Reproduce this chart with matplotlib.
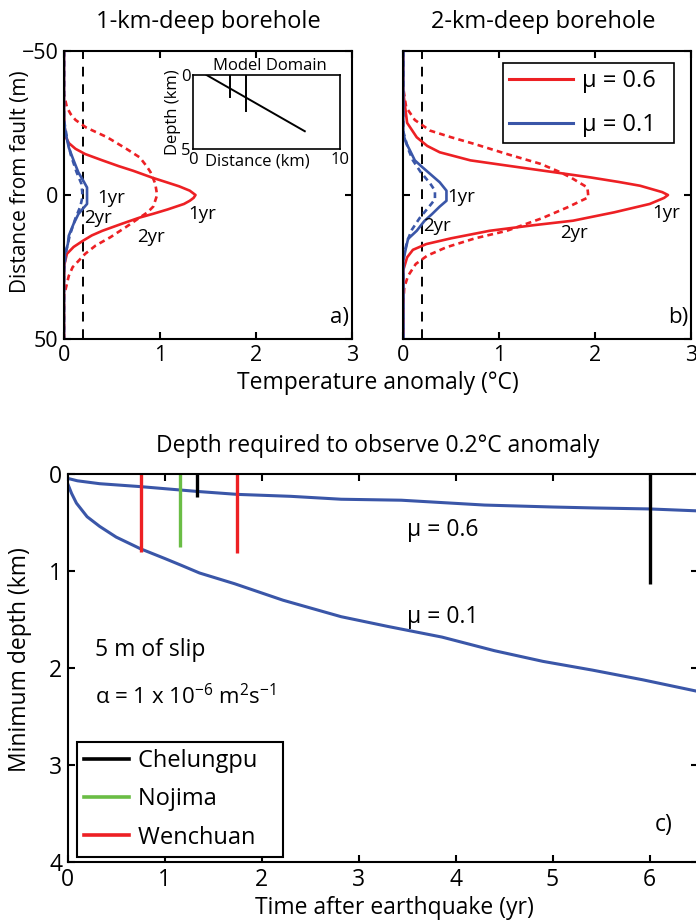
import matplotlib
matplotlib.use("Agg")
import matplotlib.pyplot as plt
from matplotlib.lines import Line2D

plt.rcParams['font.family'] = ['Open Sans', 'DejaVu Sans']
plt.rcParams['mathtext.fontset'] = 'custom'
plt.rcParams['mathtext.rm'] = 'Open Sans'
plt.rcParams['mathtext.it'] = 'Open Sans'
plt.rcParams['mathtext.default'] = 'regular'
plt.rcParams['axes.linewidth'] = 1.5

RED = '#ed2024'
BLUE = '#3a56a8'
GREEN = '#6abd45'

# ---------------- Data: panel a (1-km-deep borehole) ----------------
a_red1_d = [-50, -30, -24, -20, -18, -16, -14.2, -12, -10, -8.4, -6, -4.4, -3, -1.5, 0, 1, 2, 3.1, 5, 6.5, 7.8, 10, 12.4, 14, 15.8, 18, 20.4, 24, 30, 50]
a_red1_T = [0, 0, 0.005, 0.02, 0.05, 0.12, 0.22, 0.4, 0.57, 0.72, 0.92, 1.07, 1.2, 1.31, 1.37, 1.35, 1.31, 1.25, 1.08, 0.93, 0.79, 0.6, 0.4, 0.29, 0.2, 0.1, 0.03, 0.005, 0, 0]
a_red2_d = [-50, -35, -30.4, -28, -26, -23.4, -20, -16, -13, -10, -8, -4, 0, 4, 6, 7.8, 11, 14.7, 17.5, 20.4, 25, 28, 30.8, 35, 50]
a_red2_T = [0, 0, 0.03, 0.07, 0.12, 0.23, 0.45, 0.65, 0.79, 0.86, 0.9, 0.95, 0.97, 0.93, 0.87, 0.79, 0.65, 0.48, 0.33, 0.22, 0.09, 0.05, 0.03, 0, 0]
a_blue1_d = [-50, -25, -21, -18, -16.4, -12, -7.8, -5, -2.6, 0, 3.1, 5, 6.6, 10, 14.1, 17, 20.4, 25, 50]
a_blue1_T = [0, 0, 0.02, 0.04, 0.05, 0.1, 0.15, 0.2, 0.24, 0.24, 0.24, 0.19, 0.15, 0.1, 0.05, 0.04, 0.01, 0, 0]
a_blue2_d = [-50, -26, -20, -14, -8, -4, -1, 1, 4, 8, 14, 20, 26, 50]
a_blue2_T = [0, 0, 0.03, 0.07, 0.13, 0.18, 0.19, 0.19, 0.17, 0.12, 0.06, 0.02, 0, 0]

# ---------------- Data: panel b (2-km-deep borehole) ----------------
b_red1_d = [-50, -35.5, -25, -20, -17, -14.8, -12, -10.2, -8, -6.1, -4.5, -3.2, -1, 0, 1, 3.1, 6, 8.9, 10.5, 12.4, 15, 17, 19, 21.6, 26, 50]
b_red1_T = [0, 0, 0.04, 0.14, 0.25, 0.38, 0.7, 1.08, 1.55, 1.95, 2.25, 2.47, 2.7, 2.76, 2.72, 2.57, 2.2, 1.77, 1.35, 0.9, 0.5, 0.24, 0.1, 0.04, 0, 0]
b_red2_d = [-50, -37, -30.4, -26, -22.3, -20, -17.7, -14, -10.8, -8, -6, -2.6, 0.8, 4.3, 8, 12.4, 15, 18.1, 21, 23.9, 28, 32, 38, 50]
b_red2_T = [0, 0, 0.03, 0.12, 0.28, 0.5, 0.74, 1.1, 1.43, 1.63, 1.75, 1.92, 1.93, 1.71, 1.45, 1.08, 0.75, 0.45, 0.25, 0.13, 0.05, 0.01, 0, 0]
b_blue1_d = [-50, -21, -18, -15.4, -12, -9.6, -7, -4.4, -1.5, 2, 4, 6.6, 9, 12.4, 15.2, 18, 22.8, 50]
b_blue1_T = [0, 0, 0.03, 0.07, 0.12, 0.2, 0.29, 0.38, 0.45, 0.45, 0.38, 0.3, 0.22, 0.14, 0.05, 0.03, 0, 0]
b_blue2_d = [-50, -22, -16, -12, -8, -4, -1.5, 1.5, 4, 8, 12, 16, 22, 50]
b_blue2_T = [0, 0, 0.05, 0.1, 0.18, 0.28, 0.33, 0.33, 0.27, 0.17, 0.09, 0.04, 0, 0]

threshold_T = 0.2

# ---------------- Inset: model domain ----------------
fault_x = [0.9, 7.6]
fault_z = [0.0, 3.8]
borehole_x = [2.5, 3.6]
borehole_z = [1.47, 2.43]

# ---------------- Data: panel c ----------------
t_mu06 = [0, 0.1, 0.33, 0.75, 1.34, 1.75, 2.3, 2.82, 3.44, 4.3, 5.0, 5.44, 6.0, 6.5]
z_mu06 = [0.045, 0.07, 0.1, 0.13, 0.18, 0.21, 0.23, 0.26, 0.27, 0.32, 0.34, 0.35, 0.36, 0.38]
t_mu01 = [0, 0.02, 0.04, 0.09, 0.2, 0.33, 0.5, 0.75, 1.0, 1.17, 1.36, 1.72, 2.22, 2.82, 3.3, 3.86, 4.4, 4.9, 5.41, 5.93, 6.5]
z_mu01 = [0.1, 0.15, 0.2, 0.3, 0.44, 0.54, 0.65, 0.77, 0.87, 0.94, 1.02, 1.13, 1.3, 1.47, 1.57, 1.68, 1.82, 1.93, 2.02, 2.12, 2.24]

event_names = ['Chelungpu', 'Nojima', 'Wenchuan']
event_colors = ['black', GREEN, RED]
event_times = [[1.33, 6.0], [1.16], [0.76, 1.75]]
event_depths = [[0.24, 1.13], [0.75], [0.80, 0.81]]

W, H = 696, 924
fig = plt.figure(figsize=(W / 100, H / 100), dpi=100)

def fx(px):
    return px / W

def fy(py):
    return 1 - py / H

def style(ax, fs=15):
    ax.tick_params(direction='in', length=5, width=1.5, top=True, right=True,
                   labelsize=fs, pad=4)

LW = 1.9

# Panel a
axa = fig.add_axes([fx(64), fy(339.3), fx(352 - 64), (339.3 - 50.7) / H])
# Panel b
axb = fig.add_axes([fx(403.3), fy(339.3), fx(691 - 403.3), (339.3 - 50.7) / H])

for ax, curves in [(axa, [(a_red1_T, a_red1_d, RED, '-'), (a_red2_T, a_red2_d, RED, '--'),
                          (a_blue1_T, a_blue1_d, BLUE, '-'), (a_blue2_T, a_blue2_d, BLUE, '--')]),
                   (axb, [(b_red1_T, b_red1_d, RED, '-'), (b_red2_T, b_red2_d, RED, '--'),
                          (b_blue1_T, b_blue1_d, BLUE, '-'), (b_blue2_T, b_blue2_d, BLUE, '--')])]:
    ax.axvline(threshold_T, color='black', lw=1.4, ls=(0, (5, 4)))
    for T, d, c, ls in curves:
        if ls == '--':
            ax.plot(T, d, color=c, lw=LW, ls=(0, (2.2, 1.6)))
        else:
            ax.plot(T, d, color=c, lw=LW, ls='-')
    ax.set_xlim(0, 3)
    ax.set_ylim(50, -50)
    ax.set_xticks([0, 1, 2, 3])
    ax.set_yticks([-50, 0, 50])
    style(ax, fs=15.5)

axa.set_yticklabels(['\u221250', '0', '50'])
axb.set_yticklabels([])
fig.text(fx(208), fy(22.5), '1-km-deep borehole', fontsize=17, ha='center', va='center')
fig.text(fx(543), fy(22.5), '2-km-deep borehole', fontsize=17, ha='center', va='center')
fig.text(fx(20.5), fy(181.5), 'Distance from fault (m)', fontsize=15, rotation=90,
         ha='center', va='center')

fs_lab = 13.5
axa.text(0.35, 0.9, '1yr', fontsize=fs_lab, va='center', ha='left')
axa.text(0.21, 7.8, '2yr', fontsize=fs_lab, va='center', ha='left')
axa.text(1.29, 6.6, '1yr', fontsize=fs_lab, va='center', ha='left')
axa.text(0.76, 14.7, '2yr', fontsize=fs_lab, va='center', ha='left')
axa.text(2.97, 46, 'a)', fontsize=16, ha='right', va='bottom')

axb.text(0.46, 0.8, '1yr', fontsize=fs_lab, va='center', ha='left')
axb.text(0.21, 10.6, '2yr', fontsize=fs_lab, va='center', ha='left')
axb.text(1.64, 13.3, '2yr', fontsize=fs_lab, va='center', ha='left')
axb.text(2.6, 6.4, '1yr', fontsize=fs_lab, va='center', ha='left')
axb.text(2.97, 46, 'b)', fontsize=16, ha='right', va='bottom')

leg_handles = [Line2D([0], [0], color=RED, lw=2.2), Line2D([0], [0], color=BLUE, lw=2.2)]
lgb = axb.legend(leg_handles, ['\u03bc = 0.6\u00a0\u00a0', '\u03bc = 0.1\u00a0\u00a0'], loc='upper right',
                 bbox_to_anchor=((674 - 403.3) / (691 - 403.3), (339.3 - 63) / (339.3 - 50.7)),
                 borderaxespad=0, fontsize=17, frameon=True, fancybox=False, edgecolor='black',
                 handlelength=2.7, handletextpad=0.4, borderpad=0.25, labelspacing=0.85,
                 framealpha=1)
lgb.get_frame().set_linewidth(1.2)

fig.text(fx(377.5), fy(383), 'Temperature anomaly (\u00b0C)', fontsize=16.5, ha='center', va='center')

# Inset
axi = fig.add_axes([fx(193.3), fy(149), fx(340 - 193.3), (149 - 75) / H])
axi.plot(fault_x, fault_z, color='black', lw=1.4)
for bx, bz in zip(borehole_x, borehole_z):
    axi.plot([bx, bx], [0, bz], color='black', lw=1.4)
axi.set_xlim(0, 10)
axi.set_ylim(5, 0)
axi.set_xticks([0, 10])
axi.set_yticks([0, 5])
axi.tick_params(length=0, labelsize=12, pad=2)
for s in axi.spines.values():
    s.set_linewidth(1.2)
axi.set_ylabel('Depth (km)', fontsize=12, labelpad=0)
axi.text(0.434, -0.17, 'Distance (km)', transform=axi.transAxes, fontsize=12, ha='center', va='center')
axi.text(0.52, 1.01, 'Model Domain', transform=axi.transAxes, fontsize=12, ha='center', va='bottom')

# Panel c
axc = fig.add_axes([fx(67.7), fy(862.3), fx(698 - 67.7), (862.3 - 474) / H])
axc.plot(t_mu06, z_mu06, color=BLUE, lw=2.2)
axc.plot(t_mu01, z_mu01, color=BLUE, lw=2.2)
for name, col, ts, zs in zip(event_names, event_colors, event_times, event_depths):
    for t, z in zip(ts, zs):
        axc.plot([t, t], [0, z], color=col, lw=2.4, solid_capstyle='butt')
axc.set_xlim(0, 6.5)
axc.set_ylim(4, 0)
axc.set_xticks([0, 1, 2, 3, 4, 5, 6])
axc.set_yticks([0, 1, 2, 3, 4])
style(axc, fs=16.5)
fig.text(fx(378), fy(446), 'Depth required to observe 0.2\u00b0C anomaly', fontsize=16.5,
         ha='center', va='center')
fig.text(fx(20.5), fy(660), 'Minimum depth (km)', fontsize=16.5, rotation=90, ha='center', va='center')
axc.text(3.5, 0.64, '\u03bc = 0.6', fontsize=16.5, va='baseline', ha='left')
axc.text(3.5, 1.54, '\u03bc = 0.1', fontsize=16.5, va='baseline', ha='left')
axc.text(0.28, 1.876, '5 m of slip', fontsize=16.5, va='baseline', ha='left')
axc.text(0.28, 2.367, r'$\alpha$ = 1 x 10$^{-6}$ m$^{2}$s$^{-1}$', fontsize=16, va='baseline', ha='left')
axc.text(6.05, 3.62, 'c)', fontsize=16.5, va='center', ha='left')
ev_handles = [Line2D([0], [0], color=c, lw=2.6) for c in event_colors]
lg = axc.legend(ev_handles, [n + '\u00a0\u00a0\u00a0' for n in event_names], loc='lower left',
                bbox_to_anchor=((77 - 67.7) / (698 - 67.7), (862.3 - 856.7) / (862.3 - 474)),
                fontsize=17, frameon=True, fancybox=False, edgecolor='black', borderaxespad=0,
                handlelength=1.9, handletextpad=0.38, borderpad=0.3, labelspacing=0.6, framealpha=1)
lg.get_frame().set_linewidth(1.5)
fig.text(fx(394), fy(908), 'Time after earthquake (yr)', fontsize=16.5, ha='center', va='center')

fig.savefig('out.png', dpi=100)
